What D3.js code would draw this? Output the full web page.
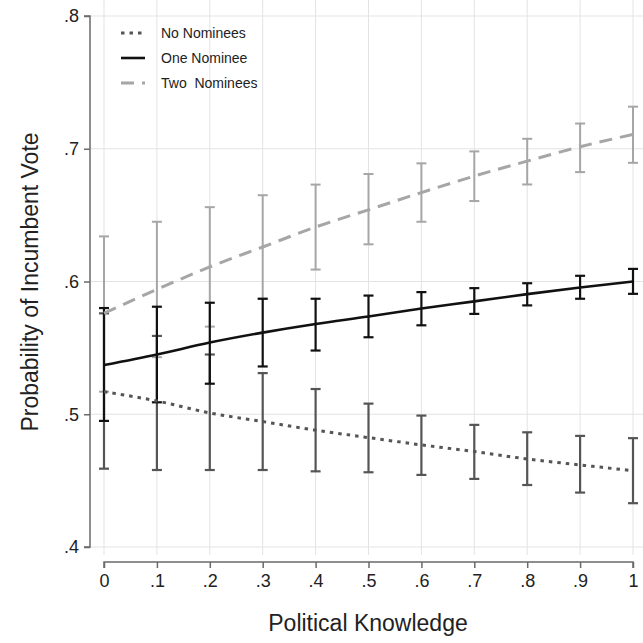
<!DOCTYPE html>
<meta charset="utf-8">
<style>
    body { margin: 0; background: #fff; }
    svg text { font-family: "Liberation Sans", Arial, sans-serif; fill: #222; }
    .grid line { stroke: #e3e3e3; stroke-width: 1; }
    .axis path, .axis line { stroke: #6a6a6a; stroke-width: 1.5; fill: none; }
    .axis text { font-size: 18px; }
</style>
<svg class="chart" width="643" height="643"></svg>
<script src="https://cdn.jsdelivr.net/npm/d3@7/dist/d3.min.js"></script>
<script>
    var knowledge = [0, .1, .2, .3, .4, .5, .6, .7, .8, .9, 1];
    var xTickLabels = ["0", ".1", ".2", ".3", ".4", ".5", ".6", ".7", ".8", ".9", "1"];
    var yTicks = [.4, .5, .6, .7, .8];
    var yTickLabels = [".4", ".5", ".6", ".7", ".8"];

    var noMean = [.517, .510, .501, .4945, .488, .4824, .4769, .4719, .4663, .4618, .4575];
    var noLo   = [.459, .458, .458, .458, .457, .4563, .4543, .4513, .4467, .441, .433];
    var noHi   = [.576, .559, .545, .531, .519, .508, .499, .492, .4864, .4837, .482];

    var oneMean = [.537, .545, .554, .5615, .568, .5736, .5796, .585, .5905, .5955, .600];
    var oneLo   = [.495, .509, .523, .536, .548, .558, .567, .5756, .582, .587, .5907];
    var oneHi   = [.580, .581, .584, .587, .587, .5894, .592, .595, .5987, .6043, .6095];

    var twoMean = [.576, .594, .611, .626, .641, .654, .667, .6794, .6907, .7015, .7108];
    var twoLo   = [.517, .543, .566, .587, .609, .628, .645, .6606, .6731, .6824, .6894];
    var twoHi   = [.634, .645, .656, .665, .673, .681, .689, .698, .7075, .719, .7317];

    var seriesNames = ["No Nominees", "One Nominee", "Two\u00a0 Nominees"];

    function drawChart() {
        var svg = d3.select(".chart");

        var x = d3.scaleLinear().domain([0, 1]).range([104, 633]);
        var y = d3.scaleLinear().domain([.4, .8]).range([547, 16]);

        // grid
        var grid = svg.append("g").attr("class", "grid");
        grid.selectAll(".v").data(knowledge).enter().append("line")
            .attr("x1", function (d) { return x(d); })
            .attr("x2", function (d) { return x(d); })
            .attr("y1", 0).attr("y2", 555);
        grid.selectAll(".h").data(yTicks).enter().append("line")
            .attr("x1", 90).attr("x2", 643)
            .attr("y1", function (d) { return y(d); })
            .attr("y2", function (d) { return y(d); });

        // axes
        var yAxis = d3.axisLeft(y).tickValues(yTicks).tickSize(6).tickPadding(5)
            .tickFormat(function (d, i) { return yTickLabels[i]; });
        svg.append("g").attr("class", "axis")
            .attr("transform", "translate(90,0)")
            .call(yAxis)
            .call(function (g) { g.select(".domain").attr("d", "M-6," + y(.8) + "H0V" + y(.4) + "H-6"); });

        var xAxis = d3.axisBottom(x).tickValues(knowledge).tickSize(6).tickPadding(6)
            .tickFormat(function (d, i) { return xTickLabels[i]; });
        svg.append("g").attr("class", "axis")
            .attr("transform", "translate(0,562)")
            .call(xAxis)
            .call(function (g) { g.select(".domain").attr("d", "M" + x(0) + ",6V0H" + x(1) + "V6"); });

        svg.append("text")
            .attr("x", 368).attr("y", 631)
            .attr("text-anchor", "middle")
            .style("font-size", "23px")
            .text("Political Knowledge");

        svg.append("text")
            .attr("transform", "translate(38,282) rotate(-90)")
            .attr("text-anchor", "middle")
            .style("font-size", "23px")
            .text("Probability of Incumbent Vote");

        var series = [
            { mean: twoMean, lo: twoLo, hi: twoHi, color: "#a6a6a6", dash: "13,8", width: 3, barColor: "#a6a6a6", barWidth: 2 },
            { mean: noMean, lo: noLo, hi: noHi, color: "#555", dash: "3.5,5", width: 3, barColor: "#555", barWidth: 2.2 },
            { mean: oneMean, lo: oneLo, hi: oneHi, color: "#111", dash: null, width: 2.6, barColor: "#111", barWidth: 2.2 }
        ];

        // error bars
        series.forEach(function (s) {
            var g = svg.append("g");
            var bars = g.selectAll("g").data(knowledge).enter().append("g");
            bars.append("line")
                .attr("x1", function (d) { return x(d); })
                .attr("x2", function (d) { return x(d); })
                .attr("y1", function (d, i) { return y(s.hi[i]); })
                .attr("y2", function (d, i) { return y(s.lo[i]); });
            bars.append("line")
                .attr("x1", function (d) { return x(d) - 5; })
                .attr("x2", function (d) { return x(d) + 5; })
                .attr("y1", function (d, i) { return y(s.hi[i]); })
                .attr("y2", function (d, i) { return y(s.hi[i]); });
            bars.append("line")
                .attr("x1", function (d) { return x(d) - 5; })
                .attr("x2", function (d) { return x(d) + 5; })
                .attr("y1", function (d, i) { return y(s.lo[i]); })
                .attr("y2", function (d, i) { return y(s.lo[i]); });
            bars.selectAll("line")
                .attr("stroke", s.barColor)
                .attr("stroke-width", s.barWidth);
        });

        // prediction lines
        var line = d3.line()
            .x(function (d) { return x(d[0]); })
            .y(function (d) { return y(d[1]); })
            .curve(d3.curveMonotoneX);

        series.forEach(function (s) {
            svg.append("path")
                .datum(knowledge.map(function (k, i) { return [k, s.mean[i]]; }))
                .attr("d", line)
                .attr("fill", "none")
                .attr("stroke", s.color)
                .attr("stroke-width", s.width)
                .attr("stroke-dasharray", s.dash);
        });

        // legend
        var legendStyles = [series[1], series[2], series[0]];
        var legend = svg.append("g").selectAll("g")
            .data(seriesNames)
            .enter().append("g")
            .attr("transform", function (d, i) { return "translate(121," + (33 + i * 25) + ")"; });
        legend.append("line")
            .attr("x1", 0).attr("x2", 24).attr("y1", 0).attr("y2", 0)
            .attr("stroke", function (d, i) { return legendStyles[i].color; })
            .attr("stroke-width", function (d, i) { return legendStyles[i].width; })
            .attr("stroke-dasharray", function (d, i) { return legendStyles[i].dash; });
        legend.append("text")
            .attr("x", 40).attr("y", 0).attr("dy", ".35em")
            .style("font-size", "14px")
            .text(function (d) { return d; });
    }

    drawChart();
</script>
